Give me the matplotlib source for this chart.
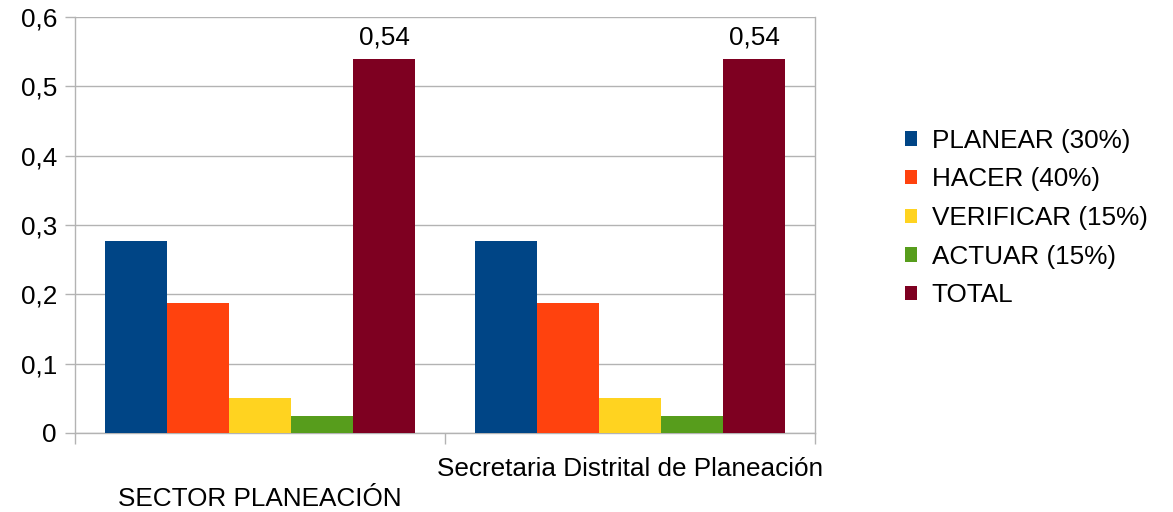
import matplotlib
matplotlib.use("Agg")
import matplotlib.pyplot as plt
import numpy as np
from matplotlib.patches import Patch

categories = ["SECTOR PLANEACIÓN", "Secretaria Distrital de Planeación"]
series_names = ["PLANEAR (30%)", "HACER (40%)", "VERIFICAR (15%)", "ACTUAR (15%)", "TOTAL"]
planear = [0.2775, 0.2775]
hacer = [0.1875, 0.1875]
verificar = [0.05, 0.05]
actuar = [0.025, 0.025]
total = [0.54, 0.54]
colors = ["#004586", "#ff420e", "#ffd320", "#579d1c", "#7e0021"]
yticks = [0, 0.1, 0.2, 0.3, 0.4, 0.5, 0.6]
ytick_labels = ["0", "0,1", "0,2", "0,3", "0,4", "0,5", "0,6"]

plt.rcParams['font.family'] = ['Liberation Sans', 'DejaVu Sans']
FS = 18.8

fig = plt.figure(figsize=(11.73, 5.12), dpi=100)
ax = fig.add_axes([75/1173, 79/512, 740/1173, 416/512])

series = [planear, hacer, verificar, actuar, total]
x = np.arange(len(categories))
w = 62/370
for i, (vals, name, c) in enumerate(zip(series, series_names, colors)):
    bars = ax.bar(x + (i - 2) * w, vals, width=w, color=c, label=name, zorder=3)
    if name == "TOTAL":
        for b, v in zip(bars, vals):
            ax.annotate(f"{v:.2f}".replace(".", ","), (b.get_x() + b.get_width()/2, v),
                        xytext=(0, 6.5), textcoords="offset points",
                        ha="center", va="bottom", fontsize=FS, color="black")

grid_c = "#b3b3b3"
ax.set_xlim(-0.5, 1.5)
ax.set_ylim(0, 0.6)
ax.set_yticks(yticks)
ax.set_yticklabels(ytick_labels, fontsize=FS)
ax.yaxis.grid(True, color=grid_c, linewidth=1, zorder=0)
ax.set_axisbelow(True)
for s in ax.spines.values():
    s.set_color(grid_c)
    s.set_linewidth(1)
ax.spines['top'].set_visible(False)
ax.tick_params(axis='y', length=7, color=grid_c, width=1, pad=6)

ax.set_xticks(x)
ax.set_xticklabels(categories, fontsize=FS)
ax.set_xticks([-0.5, 0.5, 1.5], minor=True)
ax.tick_params(axis='x', which='major', length=0, pad=17)
ax.tick_params(axis='x', which='minor', length=8, color=grid_c, width=1)
ax.xaxis.get_major_ticks()[0].set_pad(39)

handles = [Patch(facecolor=c, edgecolor='none') for c in colors]
fig.legend(handles, series_names, loc='center left',
           bbox_to_anchor=(905/1173, (512-218)/512), frameon=False,
           fontsize=FS, handlelength=0.47, handleheight=0.47, handletextpad=0.55,
           labelspacing=0.56, borderpad=0, borderaxespad=0)

fig.savefig("out.png", dpi=100)
